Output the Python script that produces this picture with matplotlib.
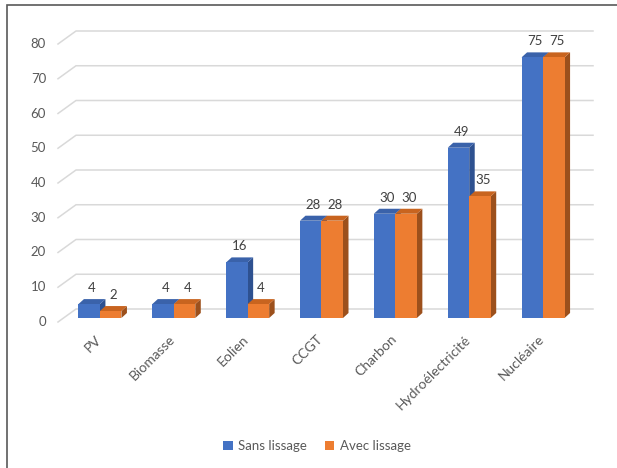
import matplotlib
matplotlib.use("Agg")
import matplotlib.pyplot as plt
from matplotlib.patches import Polygon, Rectangle
import numpy as np

categories = ["PV", "Biomasse", "Eolien", "CCGT", "Charbon", "Hydroélectricité", "Nucléaire"]
sans_lissage = [4, 4, 16, 28, 30, 49, 75]
avec_lissage = [2, 4, 4, 28, 30, 35, 75]
series_names = ["Sans lissage", "Avec lissage"]
yticks = [0, 10, 20, 30, 40, 50, 60, 70, 80]

plt.rcParams['font.family'] = ['Lato', 'DejaVu Sans']

W, H = 617, 468
fig = plt.figure(figsize=(W / 100, H / 100), dpi=100)

# front plane of the plot area in pixels
left_px, right_px = 58, 575
y0_px, y80_px = 322, 44
ax = fig.add_axes([left_px / W, (H - y0_px) / H, (right_px - left_px) / W, (y0_px - y80_px) / H])
ax.set_xlim(-0.5, len(categories) - 0.5)
ax.set_ylim(0, 80)
ax.axis('off')

px_x = (right_px - left_px) / len(categories)   # pixels per category
px_y = (y0_px - y80_px) / 80.0                 # pixels per unit

def dxp(p):
    return p / px_x

def dyp(p):
    return p / px_y

# back wall gridlines
back_dx, back_dy = dxp(18), dyp(13)
grid_c = "#D9D9D9"
for t in yticks:
    ax.plot([-0.5, -0.5 + back_dx, len(categories) - 0.5 + back_dx],
            [t, t + back_dy, t + back_dy], color=grid_c, lw=1.1, clip_on=False, zorder=1)
    ax.text(-0.5 - dxp(12), t, str(t), ha='right', va='center', fontsize=9.5,
            color="#595959")

# bars
bar_off_x, bar_off_y = dxp(5), dyp(4)
dep_x, dep_y = dxp(5.5), dyp(5)
bw = 21.5 / px_x

colors = [
    ("#4472C4", "#3A62AA", "#2E5190"),
    ("#ED7D31", "#C8641F", "#9C501C"),
]

z = 3
for i, cat in enumerate(categories):
    for s, vals in enumerate([sans_lissage, avec_lissage]):
        v = vals[i]
        front, top, side = colors[s]
        x0 = i - bw + s * bw + bar_off_x
        x1 = x0 + bw
        yb = bar_off_y
        yt = v + bar_off_y
        # side
        ax.add_patch(Polygon([[x1, yb], [x1 + dep_x, yb + dep_y], [x1 + dep_x, yt + dep_y], [x1, yt]],
                             closed=True, fc=side, ec='none', zorder=z, clip_on=False))
        # top
        ax.add_patch(Polygon([[x0, yt], [x1, yt], [x1 + dep_x, yt + dep_y], [x0 + dep_x, yt + dep_y]],
                             closed=True, fc=top, ec='none', zorder=z, clip_on=False))
        # front
        ax.add_patch(Rectangle((x0, yb), bw, v, fc=front, ec='none', zorder=z + 0.5, clip_on=False))
        z += 1
        ax.text((x0 + x1) / 2 + dep_x / 2, yt + dep_y + dyp(5), str(v), ha='center', va='bottom',
                fontsize=9.5, color="#404040", zorder=50)

# category labels
for i, cat in enumerate(categories):
    ax.text(i + dxp(0), -dyp(11), cat, rotation=45, rotation_mode='anchor', ha='right', va='top',
            fontsize=10, color="#595959")

# legend
handles = [Rectangle((0, 0), 1, 1, fc=colors[0][0], ec='none'),
           Rectangle((0, 0), 1, 1, fc=colors[1][0], ec='none')]
fig.legend(handles, series_names, loc='center', bbox_to_anchor=(317 / W, 1 - 446 / H), ncol=2,
           frameon=False, fontsize=9.5, handlelength=0.7, handleheight=0.7, handletextpad=0.4,
           columnspacing=1.4, labelcolor="#595959")

# outer border
fig.add_artist(Rectangle((7 / W, -0.1), 1.2, 1 - 5 / H + 0.1, transform=fig.transFigure,
                         fc='none', ec="#595959", lw=1.2))

fig.savefig("out.png", dpi=100)
